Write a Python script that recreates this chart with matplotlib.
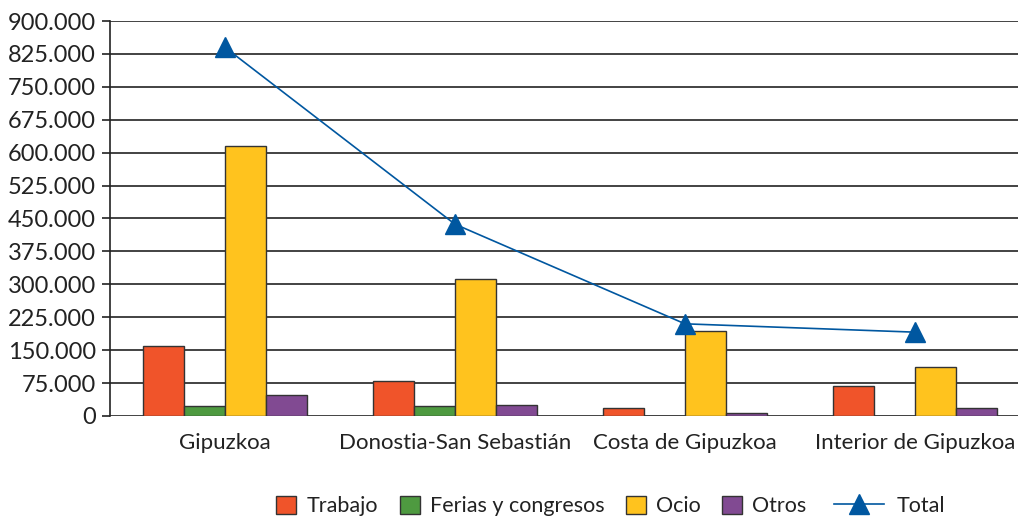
import matplotlib
matplotlib.use("Agg")
import matplotlib.pyplot as plt
import numpy as np
from matplotlib.patches import Patch
from matplotlib.lines import Line2D
from matplotlib.ticker import FuncFormatter

plt.rcParams["font.family"] = ["Lato", "DejaVu Sans"]

categories = ["Gipuzkoa", "Donostia-San Sebastián", "Costa de Gipuzkoa", "Interior de Gipuzkoa"]
trabajo = [159000, 80000, 18000, 68000]
ferias = [23000, 23000, 0, 0]
ocio = [615000, 312000, 194000, 112000]
otros = [48000, 25000, 7000, 19000]
total = [840000, 437000, 210000, 191000]

series = [("Trabajo", trabajo, "#F0542A"),
          ("Ferias y congresos", ferias, "#4E9A40"),
          ("Ocio", ocio, "#FFC31E"),
          ("Otros", otros, "#814A92")]

fig = plt.figure(figsize=(10.18, 5.19), dpi=100)
ax = fig.add_axes([0.108, 0.1985, 0.892, 0.761])

x = np.arange(len(categories))
w = 0.178
for i, (name, vals, col) in enumerate(series):
    ax.bar(x + (i - 1.5) * w, vals, w, color=col, edgecolor="#333333",
           linewidth=1.0, zorder=3)

ax.plot(x, total, color="#0057A0", linewidth=1.2, marker="^", markersize=14,
        zorder=4)

ax.set_ylim(0, 900000)
ax.set_xlim(-0.5, 3.448)
ax.set_yticks(np.arange(0, 900001, 75000))
ax.yaxis.set_major_formatter(FuncFormatter(lambda v, p: f"{int(v):,}".replace(",", ".")))
ax.grid(True, axis="y", color="#222222", linewidth=1.2, zorder=0)
ax.set_xticks(x)
ax.set_xticklabels(categories, fontsize=16, color="#222222")
ax.tick_params(axis="x", length=0, pad=12)
ax.tick_params(axis="y", length=6, width=1.2, color="#222222", labelsize=17,
               labelcolor="#222222", pad=4)
for s in ["top", "right", "bottom"]:
    ax.spines[s].set_visible(False)
ax.spines["left"].set_color("#222222")
ax.spines["left"].set_linewidth(1.2)

bar_handles = [Patch(facecolor=c, edgecolor="#333333", label=n) for n, _, c in series]
fig.legend(handles=bar_handles, loc="center", bbox_to_anchor=(0.532, 0.025),
           ncol=4, frameon=False, fontsize=15.5, handlelength=0.93,
           handleheight=0.93, handletextpad=0.47, columnspacing=1.0,
           labelcolor="#222222")
line_handle = [Line2D([0], [0], color="#0057A0", marker="^", markersize=14,
                      linewidth=1.2, label="Total")]
fig.legend(handles=line_handle, loc="center", bbox_to_anchor=(0.874, 0.025),
           frameon=False, fontsize=15.5, handlelength=2.3, handletextpad=0.6,
           labelcolor="#222222")

fig.savefig("out.png", dpi=100)
